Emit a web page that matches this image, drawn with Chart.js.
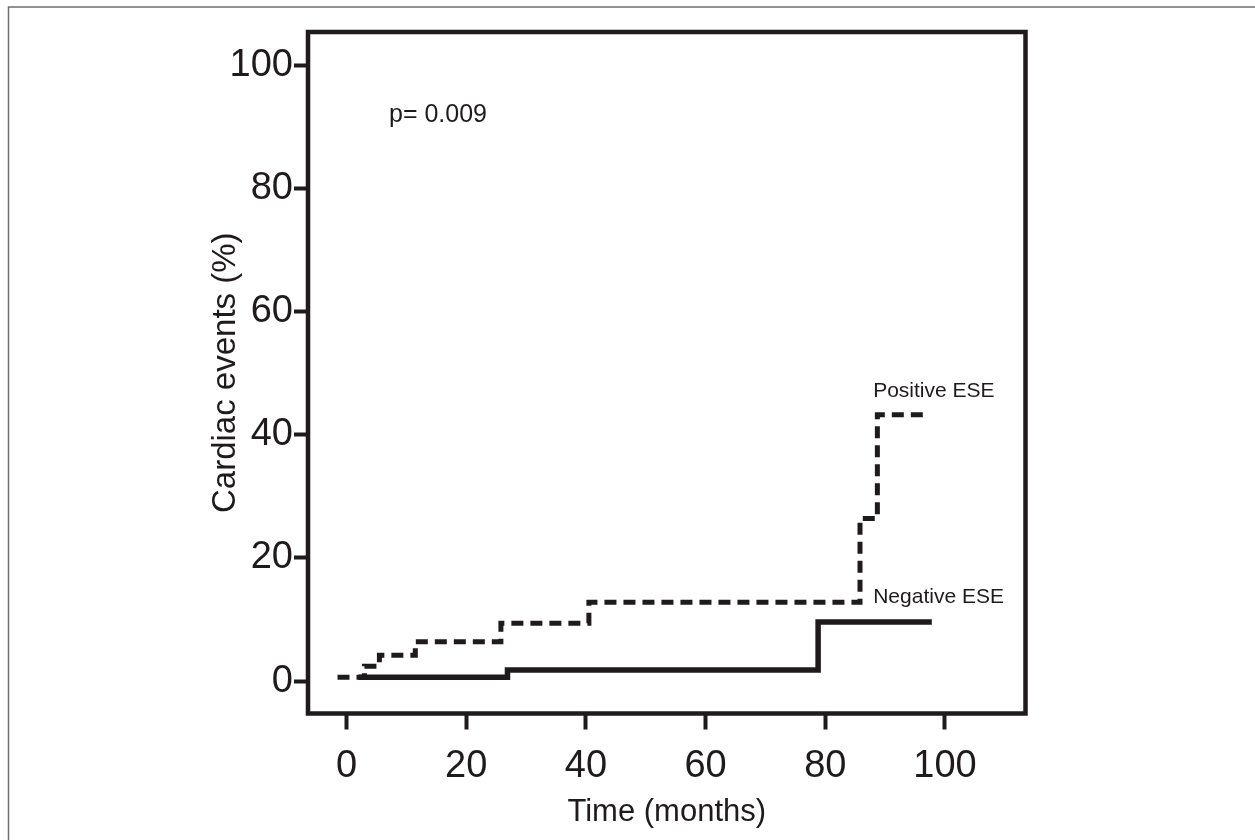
<!DOCTYPE html>
<html>
<head>
<meta charset="utf-8">
<script src="https://cdn.jsdelivr.net/npm/chart.js@4"></script>
<style>
  html, body { margin: 0; padding: 0; background: #fff; }
  canvas { display: block; }
</style>
</head>
<body>
<canvas id="kmChart" width="1255" height="840"></canvas>
<script>
const ctx = document.getElementById('kmChart');

// Kaplan-Meier style step curves (time in months, cumulative events in %)
const positiveTime = [-1.5, 3.0, 5.5, 11.5, 25.8, 40.5, 85.8, 88.7, 97.0];
const positiveEvents = [0.6, 2.4, 4.2, 6.4, 9.4, 12.8, 26.4, 43.3, 43.3];
const negativeTime = [2.0, 26.9, 78.8, 97.8];
const negativeEvents = [0.6, 1.8, 9.6, 9.6];

const xTicks = [0, 20, 40, 60, 80, 100];
const yTicks = [0, 20, 40, 60, 80, 100];

const ink = '#1f1b1c';
const fontFamily = "'Liberation Sans', Arial, Helvetica, sans-serif";

// text labels written on the plot, placed in data units
const notes = [
  { text: 'p= 0.009', x: 7.1, y: 90.9, size: 25 },
  { text: 'Positive ESE', x: 88.0, y: 46.2, size: 21 },
  { text: 'Negative ESE', x: 88.0, y: 12.7, size: 21 }
];

let positivePoints = positiveTime.map((t, i) => {
  return { x: t, y: positiveEvents[i] } });
let negativePoints = negativeTime.map((t, i) => {
  return { x: t, y: negativeEvents[i] } });

const frame = {
  id: 'frame',
  beforeDraw(chart) {
    const c = chart.ctx;
    c.save();
    c.fillStyle = '#fff';
    c.fillRect(0, 0, chart.width, chart.height);
    // thin grey page border (only top and left are visible)
    c.strokeStyle = '#6e6e6e';
    c.lineWidth = 1.5;
    c.beginPath();
    c.moveTo(8.5, chart.height + 5);
    c.lineTo(8.5, 7);
    c.lineTo(chart.width + 5, 7);
    c.stroke();
    c.restore();
  },
  afterDraw(chart) {
    const c = chart.ctx;
    const a = chart.chartArea;
    c.save();
    c.strokeStyle = ink;
    c.lineWidth = 4.5;
    c.lineJoin = 'miter';
    c.strokeRect(a.left, a.top, a.right - a.left, a.bottom - a.top);

    const xs = chart.scales.x;
    const ys = chart.scales.y;
    c.fillStyle = ink;
    c.textAlign = 'left';
    c.textBaseline = 'alphabetic';
    notes.forEach(n => {
      c.font = n.size + 'px ' + fontFamily;
      c.fillText(n.text, xs.getPixelForValue(n.x), ys.getPixelForValue(n.y));
    });
    c.restore();
  }
};

const km = new Chart(ctx, {
  type: 'line',
  data: {
    datasets: [
      {
        label: 'Positive ESE',
        data: positivePoints,
        stepped: true,
        borderColor: ink,
        borderWidth: 5,
        borderDash: [12, 7],
        borderCapStyle: 'butt',
        borderJoinStyle: 'miter',
        pointRadius: 0,
        fill: false
      },
      {
        label: 'Negative ESE',
        data: negativePoints,
        stepped: true,
        borderColor: ink,
        borderWidth: 5.5,
        borderCapStyle: 'butt',
        borderJoinStyle: 'miter',
        pointRadius: 0,
        fill: false
      }
    ]
  },
  options: {
    responsive: false,
    animation: false,
    layout: {
      padding: { left: 0, top: 32, right: 229.5, bottom: 0 }
    },
    plugins: {
      legend: { display: false },
      tooltip: { enabled: false }
    },
    scales: {
      x: {
        type: 'linear',
        position: 'bottom',
        min: -6.43,
        max: 113.45,
        afterBuildTicks: s => { s.ticks = xTicks.map(v => ({ value: v })) },
        afterFit: s => { s.height = 126.5 },
        border: { display: false },
        grid: {
          drawOnChartArea: false,
          drawTicks: true,
          tickLength: 16,
          tickWidth: 4,
          tickColor: ink
        },
        ticks: {
          color: ink,
          padding: 14,
          maxRotation: 0,
          font: { family: fontFamily, size: 38 }
        },
        title: {
          display: true,
          text: 'Time (months)',
          color: ink,
          padding: { top: 0, bottom: 9 },
          font: { family: fontFamily, size: 31 }
        }
      },
      y: {
        type: 'linear',
        min: -5.28,
        max: 105.5,
        afterBuildTicks: s => { s.ticks = yTicks.map(v => ({ value: v })) },
        afterFit: s => { s.width = 308 },
        border: { display: false },
        grid: {
          drawOnChartArea: false,
          drawTicks: true,
          tickLength: 14,
          tickWidth: 4,
          tickColor: ink
        },
        ticks: {
          color: ink,
          padding: 1,
          font: { family: fontFamily, size: 38 }
        },
        title: {
          display: true,
          text: 'Cardiac events (%)',
          color: ink,
          padding: { top: 206, bottom: 0 },
          font: { family: fontFamily, size: 33 }
        }
      }
    }
  },
  plugins: [frame]
});
</script>
</body>
</html>
